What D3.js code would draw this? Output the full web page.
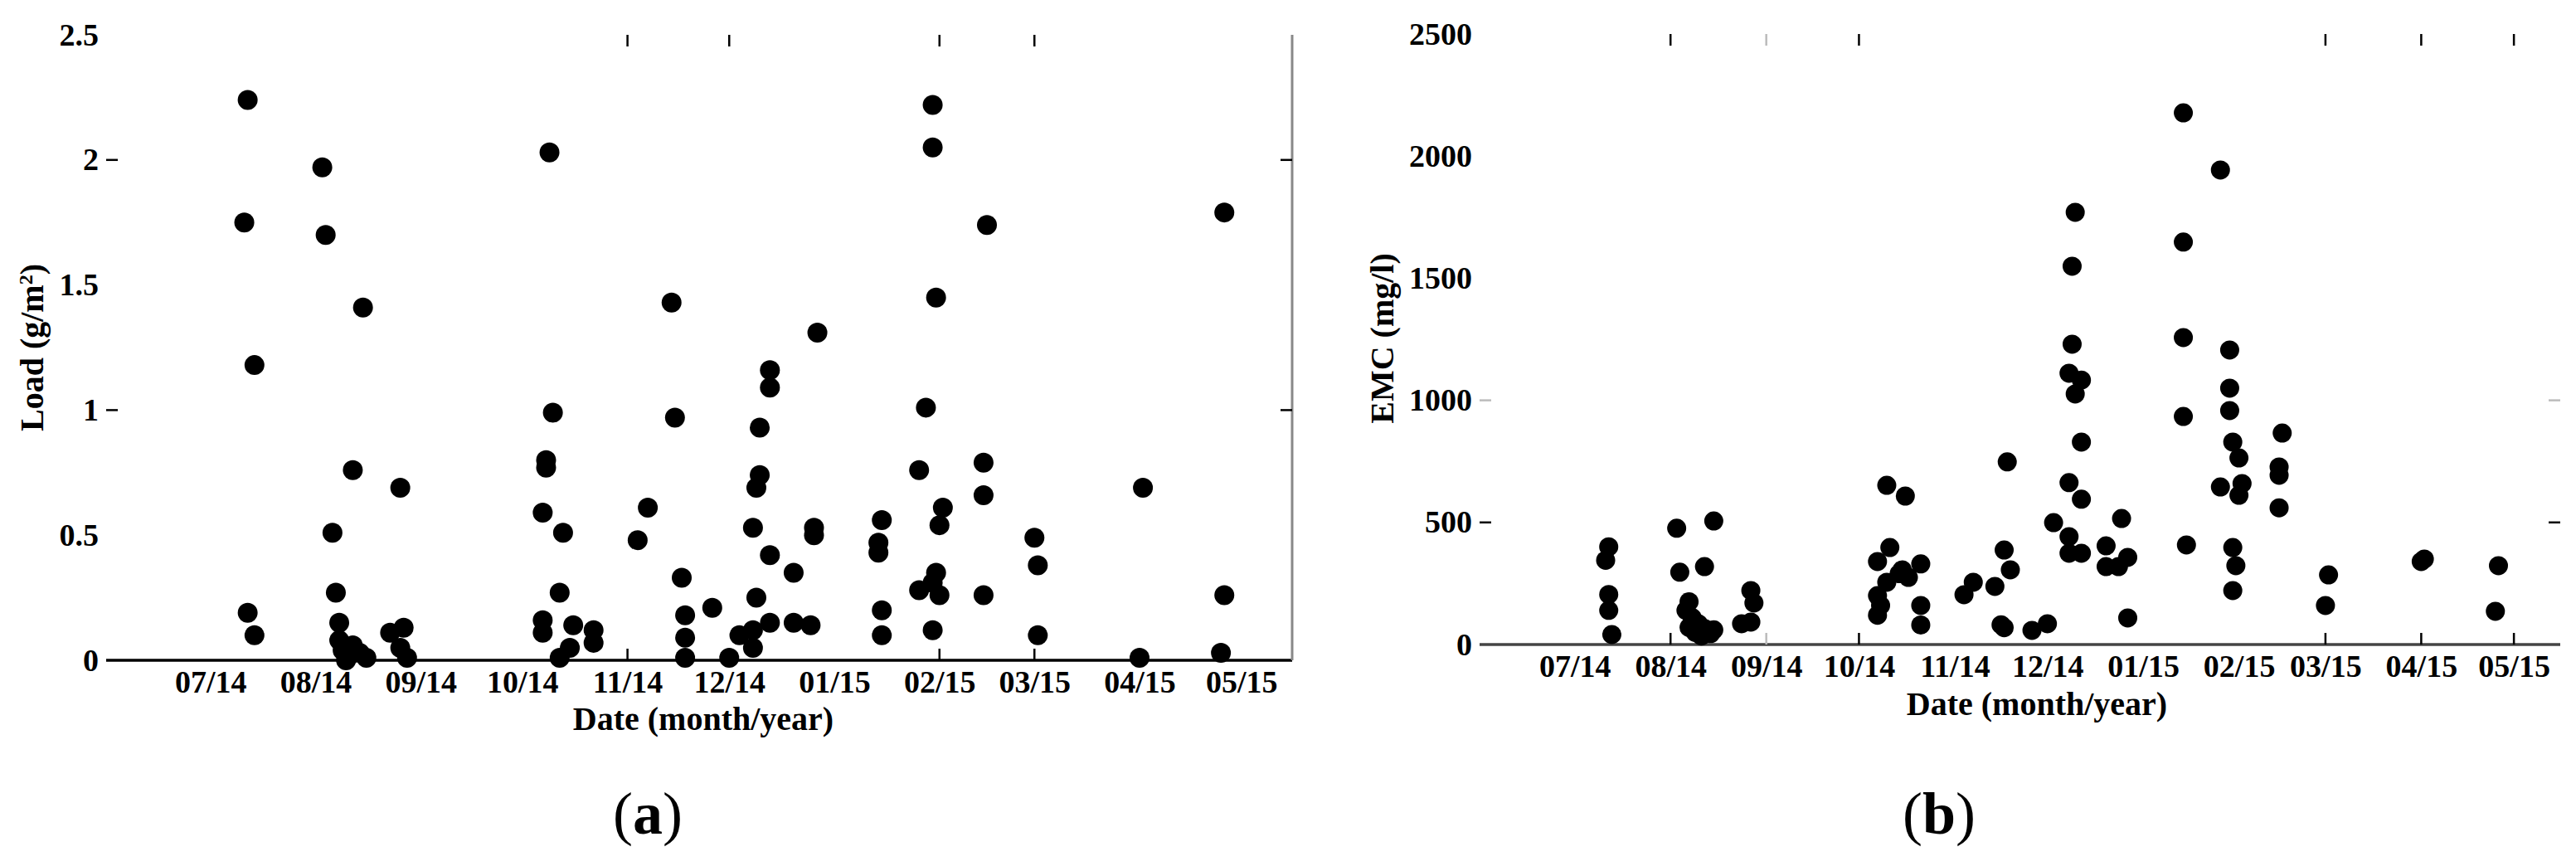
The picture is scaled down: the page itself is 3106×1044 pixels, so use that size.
<!DOCTYPE html>
<html><head><meta charset="utf-8">
<script src="https://cdn.jsdelivr.net/npm/d3@7/dist/d3.min.js"></script>
<style>body{margin:0;background:#fff}svg{display:block}</style>
</head><body><svg id="c" width="3106" height="1044"></svg>
<script>
// ---------- data ----------
const monthTicks = ["2014-07-01","2014-08-01","2014-09-01","2014-10-01","2014-11-01","2014-12-01","2015-01-01","2015-02-01","2015-03-01","2015-04-01","2015-05-01"];
const xDomain = ["2014-06-01","2015-05-16"];
const loadTicks = [0, 0.5, 1, 1.5, 2, 2.5];
const emcTicks = [0, 500, 1000, 1500, 2000, 2500];

const loadDates = ["2014-07-12","2014-07-11","2014-07-14","2014-07-12","2014-07-14","2014-08-03","2014-08-04","2014-08-15","2014-08-12","2014-08-06","2014-08-07","2014-08-08","2014-08-08","2014-08-09","2014-08-10","2014-08-11","2014-08-12","2014-08-14","2014-08-16","2014-08-26","2014-08-23","2014-08-27","2014-08-26","2014-08-28","2014-10-09","2014-10-10","2014-10-08","2014-10-08","2014-10-07","2014-10-13","2014-10-12","2014-10-07","2014-10-07","2014-10-16","2014-10-15","2014-10-12","2014-10-22","2014-10-22","2014-11-04","2014-11-07","2014-11-14","2014-11-15","2014-11-17","2014-11-18","2014-11-18","2014-11-18","2014-11-26","2014-12-01","2014-12-04","2014-12-08","2014-12-08","2014-12-09","2014-12-08","2014-12-09","2014-12-10","2014-12-10","2014-12-13","2014-12-13","2014-12-13","2014-12-13","2014-12-20","2014-12-20","2014-12-25","2014-12-26","2014-12-26","2014-12-27","2015-01-14","2015-01-14","2015-01-15","2015-01-15","2015-01-15","2015-01-26","2015-01-26","2015-01-28","2015-01-30","2015-01-30","2015-01-31","2015-01-30","2015-01-31","2015-01-30","2015-02-01","2015-02-01","2015-02-02","2015-02-14","2015-02-14","2015-02-15","2015-02-14","2015-03-01","2015-03-02","2015-03-02","2015-04-02","2015-04-01","2015-04-26","2015-04-26","2015-04-25"];
const loadValues = [2.24,1.75,1.18,0.19,0.10,1.97,1.70,1.41,0.76,0.51,0.27,0.15,0.08,0.04,0.00,0.02,0.06,0.03,0.01,0.69,0.11,0.13,0.05,0.01,2.03,0.99,0.80,0.77,0.59,0.51,0.27,0.16,0.11,0.14,0.05,0.01,0.12,0.07,0.48,0.61,1.43,0.97,0.33,0.18,0.09,0.01,0.21,0.01,0.10,0.12,0.05,0.25,0.53,0.69,0.74,0.93,1.16,1.09,0.42,0.15,0.35,0.15,0.14,0.53,0.50,1.31,0.47,0.43,0.56,0.20,0.10,0.76,0.28,1.01,2.22,2.05,1.45,0.31,0.35,0.12,0.26,0.54,0.61,0.79,0.66,1.74,0.26,0.49,0.38,0.10,0.69,0.01,1.79,0.26,0.03];

const emcDates = ["2014-07-12","2014-07-11","2014-07-12","2014-07-12","2014-07-13","2014-08-03","2014-08-15","2014-08-04","2014-08-12","2014-08-07","2014-08-06","2014-08-08","2014-08-10","2014-08-12","2014-08-07","2014-08-14","2014-08-15","2014-08-11","2014-08-09","2014-08-27","2014-08-28","2014-08-27","2014-08-24","2014-10-10","2014-10-16","2014-10-11","2014-10-07","2014-10-14","2014-10-10","2014-10-07","2014-10-08","2014-10-07","2014-10-21","2014-10-21","2014-10-21","2014-10-15","2014-10-17","2014-11-04","2014-11-07","2014-11-14","2014-11-18","2014-11-17","2014-11-19","2014-11-16","2014-11-17","2014-11-26","2014-12-01","2014-12-03","2014-12-08","2014-12-08","2014-12-08","2014-12-12","2014-12-12","2014-12-12","2014-12-09","2014-12-08","2014-12-12","2014-12-10","2014-12-10","2014-12-09","2014-12-20","2014-12-20","2014-12-25","2014-12-27","2014-12-24","2014-12-27","2015-01-14","2015-01-14","2015-01-15","2015-01-14","2015-01-14","2015-01-29","2015-01-26","2015-01-29","2015-01-29","2015-01-30","2015-02-01","2015-01-26","2015-02-02","2015-02-01","2015-01-30","2015-01-31","2015-01-30","2015-02-15","2015-02-14","2015-02-14","2015-02-14","2015-03-02","2015-03-01","2015-04-01","2015-04-02","2015-04-26","2015-04-25"];
const emcValues = [400,345,205,140,41,476,506,296,319,175,140,110,85,65,70,45,60,35,50,221,170,92,85,652,608,397,340,290,255,200,160,120,330,160,80,306,275,204,255,238,748,387,306,81,69,58,85,499,663,442,374,374,595,829,1230,1111,1083,1026,1770,1549,404,319,516,357,319,109,1257,934,408,2177,1648,1206,1943,1050,958,829,764,645,659,611,397,323,221,866,727,693,560,285,160,340,350,323,136];

// which month ticks survive in the scan (grey = faint)
const aTickMonths = ["2014-11-01","2014-12-01","2015-02-01","2015-03-01"];
const bTickMonths = ["2014-08-01","2014-09-01","2014-10-01","2015-03-01","2015-04-01","2015-05-01"];
const bGreyMonths = ["2014-09-01"];

// ---------- drawing ----------
const parse = d3.timeParse("%Y-%m-%d");
const svg = d3.select("#c");
svg.append("rect").attr("width",3106).attr("height",1044).attr("fill","#fff");
const FONT = "'Liberation Serif','Times New Roman',serif";

function panel(o) {
  const x = d3.scaleTime().domain(xDomain.map(parse)).range([o.x0, o.x1]);
  const y = d3.scaleLinear().domain([o.yTicks[0], o.yTicks[o.yTicks.length-1]]).range([o.y0, o.y1]);
  const g = svg.append("g");

  // x tick labels
  const xa = g.append("g").attr("transform", `translate(0,${o.y0})`)
    .call(d3.axisBottom(x).tickValues(monthTicks.map(parse)).tickFormat(d3.timeFormat("%m/%y")).tickSize(0).tickPadding(o.xPad));
  xa.select(".domain").remove();
  xa.selectAll("text").attr("font-family", FONT).attr("font-weight","bold").attr("font-size",38).attr("fill","#000");

  // y tick labels
  const ya = g.append("g").attr("transform", `translate(${o.x0},0)`)
    .call(d3.axisLeft(y).tickValues(o.yTicks).tickFormat(d => String(d)).tickSize(0).tickPadding(12));
  ya.select(".domain").remove();
  ya.selectAll("text").attr("font-family", FONT).attr("font-weight","bold").attr("font-size",38).attr("fill","#000");

  // baseline axis
  g.append("line").attr("x1", o.x0 - 3).attr("x2", o.x1).attr("y1", o.y0).attr("y2", o.y0)
    .attr("stroke", o.axisColor).attr("stroke-width", 3.5);
  if (o.rightLine) {
    g.append("line").attr("x1", o.x1).attr("x2", o.x1).attr("y1", o.y1).attr("y2", o.y0)
      .attr("stroke", "#888").attr("stroke-width", 3);
  }
  // x ticks top/bottom (inward)
  o.tickMonths.forEach(m => {
    const xx = x(parse(m));
    const col = (o.greyMonths || []).includes(m) ? "#bbb" : "#000";
    g.append("line").attr("x1", xx).attr("x2", xx).attr("y1", o.y1).attr("y2", o.y1 + 14).attr("stroke", col).attr("stroke-width", 2.5);
    g.append("line").attr("x1", xx).attr("x2", xx).attr("y1", o.y0).attr("y2", o.y0 - 14).attr("stroke", col).attr("stroke-width", 2.5);
  });
  // y ticks left/right (inward)
  o.yTickMarks.forEach((v, i) => {
    const yy = y(v);
    const col = o.yTickColors[i];
    g.append("line").attr("x1", o.x0 - 3).attr("x2", o.x0 + 11).attr("y1", yy).attr("y2", yy).attr("stroke", col).attr("stroke-width", 2.5);
    g.append("line").attr("x1", o.x1).attr("x2", o.x1 - 14).attr("y1", yy).attr("y2", yy).attr("stroke", col).attr("stroke-width", 2.5);
  });

  // points
  g.append("g").selectAll("circle").data(o.dates.map((d, i) => [parse(d), o.values[i]]))
    .join("circle").attr("cx", d => x(d[0])).attr("cy", d => y(d[1])).attr("r", o.r).attr("fill", "#000");

  // axis titles
  g.append("text").attr("x", o.dateX).attr("y", o.dateY).attr("text-anchor","middle")
    .attr("font-family", FONT).attr("font-weight","bold").attr("font-size",40).text("Date (month/year)");
  const yl = g.append("text").attr("transform", `translate(${o.ylX},${o.ylY}) rotate(-90)`).attr("text-anchor","middle")
    .attr("font-family", FONT).attr("font-weight","bold").attr("font-size",40);
  o.ylabel(yl);

  const cap = g.append("text").attr("x", o.capX).attr("y", 1005).attr("text-anchor","middle")
    .attr("font-family", FONT).attr("font-size",72);
  cap.append("tspan").text("(");
  cap.append("tspan").attr("font-weight","bold").text(o.cap);
  cap.append("tspan").text(")");
}

panel({
  x0: 131, x1: 1558, y0: 796, y1: 42, yTicks: loadTicks, xPad: 12,
  dates: loadDates, values: loadValues, r: 12, axisColor: "#000", rightLine: true,
  tickMonths: aTickMonths, yTickMarks: [1, 2], yTickColors: ["#000", "#000"],
  dateX: 848, dateY: 880, ylX: 52, ylY: 419, capX: 781, cap: "a",
  ylabel: t => { t.append("tspan").text("Load (g/m"); t.append("tspan").attr("baseline-shift","super").attr("font-size",24).text("2"); t.append("tspan").text(")"); }
});
panel({
  x0: 1787, x1: 3087, y0: 777, y1: 41, yTicks: emcTicks, xPad: 12,
  dates: emcDates, values: emcValues, r: 11.5, axisColor: "#444", rightLine: false,
  tickMonths: bTickMonths, greyMonths: bGreyMonths, yTickMarks: [500, 1000], yTickColors: ["#000", "#bbb"],
  dateX: 2456, dateY: 862, ylX: 1680, ylY: 408, capX: 2338, cap: "b",
  ylabel: t => t.text("EMC (mg/l)")
});
</script>
</body></html>
